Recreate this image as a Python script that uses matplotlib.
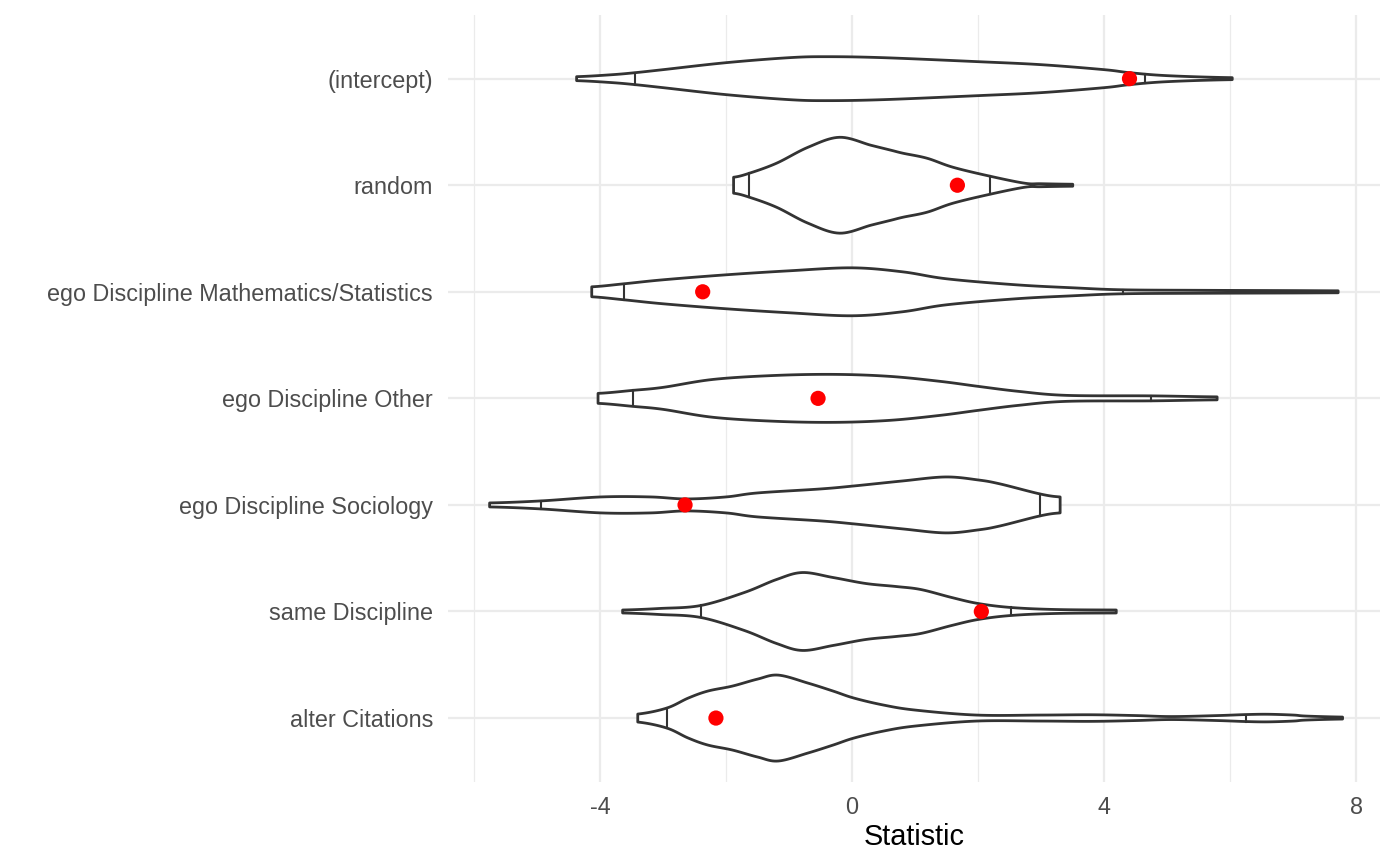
import numpy as np
import matplotlib
matplotlib.use("Agg")
import matplotlib.pyplot as plt

plt.rcParams['font.family'] = ['Liberation Sans', 'DejaVu Sans']

categories = ["(intercept)", "random", "ego Discipline Mathematics/Statistics",
              "ego Discipline Other", "ego Discipline Sociology",
              "same Discipline", "alter Citations"]

# density profiles: statistic value -> relative half-width
intercept_x = [-4.37, -3.8, -3.44, -3.0, -2.0, -1.0, -0.4, 0.5, 2.0, 3.0, 4.0, 4.4, 5.0, 6.03]
intercept_d = [2, 4, 6, 9, 16, 21, 22, 21, 17, 14, 9, 6, 3, 1]

random_x = [-1.88, -1.63, -1.2, -0.7, -0.2, 0.3, 0.62, 0.81, 1.19, 1.6, 2.19, 2.74, 3.0, 3.5]
random_d = [8, 12, 22, 38, 48, 40, 35, 32, 27, 18, 9, 2, 1.5, 1]

math_x = [-4.13, -3.62, -3.0, -2.0, -1.0, 0.0, 0.8, 1.5, 2.6, 3.5, 4.29, 5.5, 7.0, 7.71]
math_d = [5, 8, 12, 17, 21, 24, 20, 13, 7, 4, 2, 1.5, 1.2, 1]

other_x = [-4.03, -3.48, -3.0, -2.2, -1.2, -0.26, 0.6, 1.4, 2.0, 2.64, 3.4, 4.74, 5.79]
other_d = [5, 8, 11, 19, 23, 24, 22, 17, 12, 7, 3, 2.5, 1.5]

soc_x = [-5.75, -4.94, -3.98, -3.2, -2.63, -2.0, -1.5, -0.5, 0.03, 0.8, 1.48, 2.0, 2.35, 2.98, 3.3]
soc_d = [2, 4, 8, 8, 6, 8, 12, 16, 19, 24, 28, 25, 21, 11, 8]

same_x = [-3.64, -3.06, -2.4, -1.71, -1.2, -0.79, -0.3, 0.22, 0.7, 1.09, 1.58, 2.0, 2.52, 3.22, 4.19]
same_d = [1.5, 3, 6, 19, 32, 39, 34, 28, 25, 22, 14, 8, 4, 2, 1.5]

alter_x = [-3.4, -2.94, -2.6, -2.29, -1.9, -1.5, -1.17, -0.7, -0.3, 0.03, 0.5, 1.0, 1.97,
           3.0, 3.8, 4.5, 5.07, 5.8, 6.25, 6.6, 7.0, 7.2, 7.78]
alter_d = [4, 10, 20, 27, 32, 39, 43, 35, 27, 20, 13, 8, 3,
           3, 3.3, 2.5, 1.5, 2.5, 3.5, 3.8, 3, 2, 1]

profiles_x = [intercept_x, random_x, math_x, other_x, soc_x, same_x, alter_x]
profiles_d = [intercept_d, random_d, math_d, other_d, soc_d, same_d, alter_d]

# 5% and 95% quantiles
q_low = [-3.44, -1.63, -3.62, -3.48, -4.94, -2.40, -2.94]
q_high = [4.65, 2.19, 4.29, 4.74, 2.98, 2.52, 6.25]

# observed statistic (red points)
observed = [4.40, 1.67, -2.37, -0.54, -2.65, 2.05, -2.16]

DENSITY_SCALE = 1.0 / 106.7
LINE = "#333333"
GRID = "#EBEBEB"


def catmull(xs, ys, n=12):
    xs = np.asarray(xs, float)
    ys = np.asarray(ys, float)
    px = np.concatenate([[2 * xs[0] - xs[1]], xs, [2 * xs[-1] - xs[-2]]])
    py = np.concatenate([[ys[0]], ys, [ys[-1]]])
    ox, oy = [], []
    for i in range(1, len(px) - 2):
        t = np.linspace(0, 1, n, endpoint=False)
        for arr, out in ((px, ox), (py, oy)):
            p0, p1, p2, p3 = arr[i - 1], arr[i], arr[i + 1], arr[i + 2]
            out.extend(0.5 * ((2 * p1) + (-p0 + p2) * t +
                              (2 * p0 - 5 * p1 + 4 * p2 - p3) * t ** 2 +
                              (-p0 + 3 * p1 - 3 * p2 + p3) * t ** 3))
    ox.append(xs[-1])
    oy.append(ys[-1])
    return np.array(ox), np.clip(np.array(oy), 0.3, None)


fig = plt.figure(figsize=(14, 8.66), dpi=100)
ax = fig.add_axes([0.32, 0.097, 0.666, 0.886])

n = len(categories)
ypos = np.arange(n)[::-1] + 1

for i in range(n):
    yc = ypos[i]
    sx, sd = catmull(profiles_x[i], profiles_d[i])
    hw = sd * DENSITY_SCALE
    poly_x = np.concatenate([sx, sx[::-1]])
    poly_y = np.concatenate([yc + hw, (yc - hw)[::-1]])
    ax.fill(poly_x, poly_y, facecolor="white", edgecolor=LINE, linewidth=2.0,
            joinstyle="round", zorder=3)
    for q in (q_low[i], q_high[i]):
        h = np.interp(q, sx, hw)
        ax.plot([q, q], [yc - h, yc + h], color=LINE, linewidth=1.5, zorder=4)

ax.scatter(observed, ypos, s=120, color="red", edgecolors="none", zorder=5)

ax.set_xlim(-6.41, 8.38)
ax.set_ylim(0.4, 7.6)
ax.set_xticks([-4, 0, 4, 8])
ax.set_xticks([-6, -2, 2, 6], minor=True)
ax.set_xticklabels(["-4", "0", "4", "8"])
ax.set_yticks(ypos)
ax.set_yticklabels(categories)
ax.grid(True, which="major", color=GRID, linewidth=1.6, zorder=0)
ax.grid(True, which="minor", axis="x", color=GRID, linewidth=0.9, zorder=0)
ax.set_axisbelow(True)
for s in ax.spines.values():
    s.set_visible(False)
ax.tick_params(which="both", length=0, labelsize=16.8, labelcolor="#4D4D4D")
ax.tick_params(axis="y", pad=10.8)
ax.tick_params(axis="x", pad=10)
ax.set_xlabel("Statistic", fontsize=20.8, color="black", labelpad=3)

fig.savefig("out.png", dpi=100, facecolor="white")
